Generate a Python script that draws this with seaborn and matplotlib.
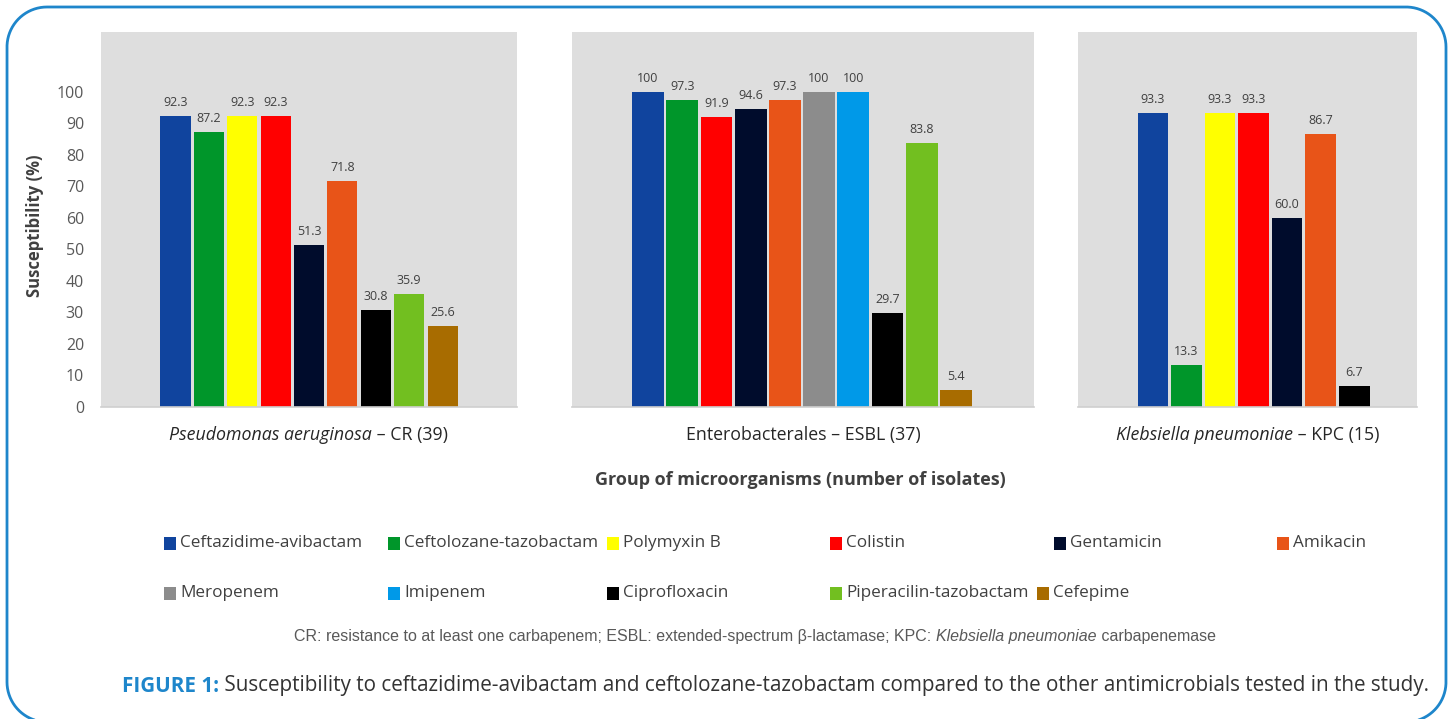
import matplotlib
matplotlib.use("Agg")
import matplotlib.pyplot as plt
from matplotlib.patches import Rectangle
from matplotlib.offsetbox import TextArea, HPacker, AnnotationBbox
import seaborn as sns
import pandas as pd
import numpy as np

# ---------------------------------------------------------------- data
drugs = ["Ceftazidime-avibactam", "Ceftolozane-tazobactam", "Polymyxin B", "Colistin",
         "Gentamicin", "Amikacin", "Meropenem", "Imipenem", "Ciprofloxacin",
         "Piperacilin-tazobactam", "Cefepime"]
drug_colors = ["#10449e", "#00962a", "#ffff00", "#ff0000", "#000c2c", "#e85418",
               "#8c8c8c", "#0099e8", "#000000", "#72bf20", "#a86c00"]

pa_drugs = ["Ceftazidime-avibactam", "Ceftolozane-tazobactam", "Polymyxin B", "Colistin",
            "Gentamicin", "Amikacin", "Ciprofloxacin", "Piperacilin-tazobactam", "Cefepime"]
pa_values = [92.3, 87.2, 92.3, 92.3, 51.3, 71.8, 30.8, 35.9, 25.6]

ent_drugs = ["Ceftazidime-avibactam", "Ceftolozane-tazobactam", "Colistin", "Gentamicin",
             "Amikacin", "Meropenem", "Imipenem", "Ciprofloxacin",
             "Piperacilin-tazobactam", "Cefepime"]
ent_values = [100, 97.3, 91.9, 94.6, 97.3, 100, 100, 29.7, 83.8, 5.4]

kp_drugs = ["Ceftazidime-avibactam", "Ceftolozane-tazobactam", "Polymyxin B", "Colistin",
            "Gentamicin", "Amikacin", "Ciprofloxacin"]
kp_values = [93.3, 13.3, 93.3, 93.3, 60.0, 86.7, 6.7]

pa_label = [("Pseudomonas aeruginosa", "italic"), (" \u2013 CR (39)", "normal")]
ent_label = [("Enterobacterales \u2013 ESBL (37)", "normal")]
kp_label = [("Klebsiella pneumoniae", "italic"), (" \u2013 KPC (15)", "normal")]

y_ticks = [0, 10, 20, 30, 40, 50, 60, 70, 80, 90, 100]
y_label = "Susceptibility (%)"
x_title = "Group of microorganisms (number of isolates)"
footnote = [("CR: resistance to at least one carbapenem; ESBL: extended-spectrum \u03b2-lactamase; KPC: ", "normal"),
            ("Klebsiella pneumoniae", "italic"),
            (" carbapenemase", "normal")]
caption_head = "FIGURE 1:"
caption_body = (" Susceptibility to ceftazidime-avibactam and ceftolozane-tazobactam "
                "compared to the other antimicrobials tested in the study.")

# ---------------------------------------------------------------- style
sns.set_theme(style="white")
plt.rcParams["font.family"] = ["Open Sans", "DejaVu Sans"]

W, H = 1454, 719
fig = plt.figure(figsize=(W / 100, H / 100), dpi=100)
fig.patch.set_facecolor("white")

# full-figure canvas in pixel units for the frame, legend and captions
bg = fig.add_axes([0, 0, 1, 1])
bg.set_xlim(0, W)
bg.set_ylim(H, 0)
bg.axis("off")


def frame_outline(x0, y0, x1, y1, r, n=40):
    """Rounded frame whose bottom edge runs just below the canvas."""
    pts = []
    corners = [((x0 + r, y1 - r), 90, 180), ((x0 + r, y0 + r), 180, 270),
               ((x1 - r, y0 + r), 270, 360), ((x1 - r, y1 - r), 0, 90)]
    for (cx, cy), a0, a1 in corners:
        t = np.radians(np.linspace(a0, a1, n))
        pts.append(np.column_stack([cx + r * np.cos(t), cy + r * np.sin(t)]))
    return np.vstack(pts)


outline = frame_outline(7, 7, 1446, 722, 40)
bg.plot(outline[:, 0], outline[:, 1], color="#1e86cb", lw=2.0,
        solid_joinstyle="round")

palette = dict(zip(drugs, drug_colors))
TEXT = "#404040"


def rich(parts, size, family=None, color=TEXT):
    boxes = []
    for s, style in parts:
        props = dict(fontsize=size, color=color, fontstyle=style)
        if family:
            props["family"] = family
        boxes.append(TextArea(s, textprops=props))
    return HPacker(children=boxes, pad=0, sep=0, align="baseline")


def value_text(v):
    return "100" if v == 100 else f"{v:.1f}"


panels = [
    (pa_drugs, pa_values, pa_label, (100.7, 32, 517, 407), (-2.24, 10.23), 0.90),
    (ent_drugs, ent_values, ent_label, (572, 32, 1034, 407), (-2.22, 11.28), 0.93),
    (kp_drugs, kp_values, kp_label, (1078, 32, 1417, 407), (-2.23, 7.87), 0.91),
]

for i, (names, vals, label, (x0, y0, x1, y1), xlim, bw) in enumerate(panels):
    ax = fig.add_axes([x0 / W, 1 - y1 / H, (x1 - x0) / W, (y1 - y0) / H])
    df = pd.DataFrame({"drug": names, "value": vals})
    sns.barplot(data=df, x="drug", y="value", hue="drug", order=names,
                hue_order=names, palette=palette, width=bw, legend=False,
                saturation=1, edgecolor="none", ax=ax)
    ax.set_facecolor("#dedede")
    ax.set_xlim(*xlim)
    ax.set_ylim(0, 119)
    for c in ax.containers:
        ax.bar_label(c, labels=[value_text(v) for v in c.datavalues], padding=5,
                     fontsize=9, color=TEXT)
    for side in ("top", "left", "right"):
        ax.spines[side].set_visible(False)
    ax.spines["bottom"].set_color("#cfcfcf")
    ax.spines["bottom"].set_linewidth(1.2)
    ax.set_xticks([])
    ax.set_xticks(list(xlim), minor=True)
    ax.tick_params(axis="x", which="minor", length=5, color="#d6d6d6", width=1.2,
                   labelbottom=False)
    ax.set_xlabel("")
    ax.set_ylabel("")
    ax.set_yticks(y_ticks)
    if i == 0:
        ax.set_yticklabels([str(t) for t in y_ticks], fontsize=11.5, color="#595959")
        ax.tick_params(axis="y", length=0, pad=12)
    else:
        ax.tick_params(axis="y", length=0, labelleft=False)
    ab = AnnotationBbox(rich(label, 12.8, color="#262626"), (0.5, 0),
                        xycoords="axes fraction", xybox=(0, -20.5),
                        boxcoords="offset points", frameon=False,
                        box_alignment=(0.5, 0.5), annotation_clip=False)
    ax.add_artist(ab)

# axis titles
bg.text(35, 226, y_label, rotation=90, ha="center", va="center",
        fontsize=12, fontweight="bold", color=TEXT)
bg.text(800, 480, x_title, ha="center", va="center", fontsize=13,
        fontweight="bold", color=TEXT)

# legend
legend_rows = [
    (543, ["Ceftazidime-avibactam", "Ceftolozane-tazobactam", "Polymyxin B",
           "Colistin", "Gentamicin", "Amikacin"], [164, 388, 607, 830, 1054, 1277]),
    (593, ["Meropenem", "Imipenem", "Ciprofloxacin", "Piperacilin-tazobactam",
           "Cefepime"], [164, 388, 607, 830, 1037]),
]
for y, names, xs in legend_rows:
    for name, x in zip(names, xs):
        bg.add_patch(Rectangle((x, y - 6.5), 11.5, 13, facecolor=palette[name],
                               edgecolor="none"))
        bg.text(x + 16, y, name, ha="left", va="center", fontsize=12.3, color=TEXT)

# footnote
bg.add_artist(AnnotationBbox(rich(footnote, 11.5, family=["Liberation Sans"], color="#595959"),
                             (755, 637), xycoords="data", frameon=False,
                             box_alignment=(0.5, 0.5)))

# caption
cap = HPacker(children=[
    TextArea(caption_head, textprops=dict(fontsize=14.9, fontweight="bold", color="#1e86cb")),
    TextArea(caption_body, textprops=dict(fontsize=14.9, color="#333333")),
], pad=0, sep=0, align="baseline")
bg.add_artist(AnnotationBbox(cap, (122, 686), xycoords="data", frameon=False,
                             box_alignment=(0, 0.5)))

fig.savefig("out.png", dpi=100)
